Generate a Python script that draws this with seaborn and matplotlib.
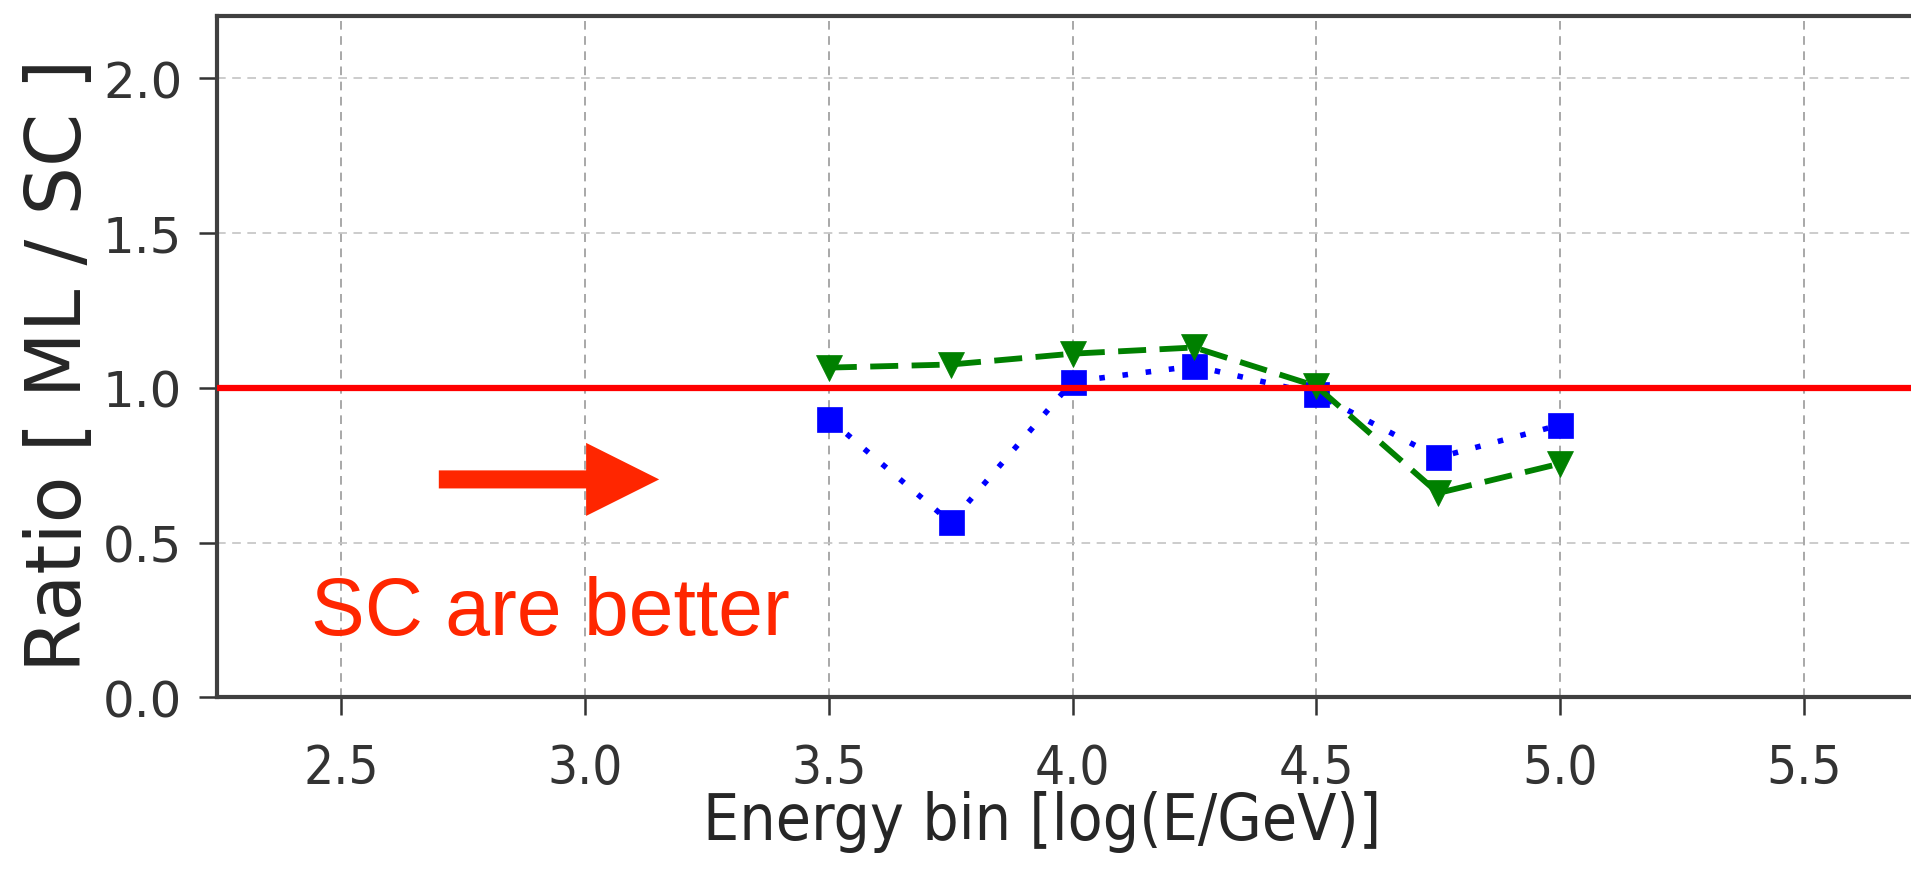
import matplotlib
matplotlib.use("Agg")
import matplotlib.pyplot as plt
import seaborn as sns

# ---- data ----
energy_bins = [3.5, 3.75, 4.0, 4.25, 4.5, 4.75, 5.0]
ratio_blue = [0.90, 0.565, 1.02, 1.07, 0.98, 0.775, 0.88]
ratio_green = [1.065, 1.075, 1.11, 1.13, 1.005, 0.66, 0.755]
reference_ratio = 1.0
x_ticks = [2.5, 3.0, 3.5, 4.0, 4.5, 5.0, 5.5]
y_ticks = [0.0, 0.5, 1.0, 1.5, 2.0]
x_tick_labels = ["2.5", "3.0", "3.5", "4.0", "4.5", "5.0", "5.5"]
y_tick_labels = ["0.0", "0.5", "1.0", "1.5", "2.0"]
x_label = "Energy bin [log(E/GeV)]"
y_label = "Ratio [ ML / SC ]"
note_text = "SC are better"

sns.set_theme(style="white")
plt.rcParams["font.family"] = ["DejaVu Sans"]

fig = plt.figure(figsize=(19.11, 8.87), dpi=100)
ax = fig.add_axes([0.11355, 0.2126, 0.9018, 0.7681])

# grid
ax.set_axisbelow(True)
ax.xaxis.grid(True, color="#9a9a9a", linestyle=(0, (5.2, 3.9)), linewidth=1.2)
ax.yaxis.grid(True, color="#c4c4c4", linestyle=(0, (5.2, 3.9)), linewidth=1.2)

# series
sns.lineplot(x=energy_bins, y=ratio_blue, ax=ax, color="#0000ff",
             marker="s", markersize=18, markeredgecolor="#0000ff",
             markeredgewidth=0.5, linewidth=4.0,
             linestyle=(0, (1.0, 3.2)), zorder=3)
sns.lineplot(x=energy_bins, y=ratio_green, ax=ax, color="#008000",
             marker="v", markersize=19, markeredgecolor="#008000",
             markeredgewidth=0.5, linewidth=4.2,
             linestyle=(0, (4.8, 2.3)), zorder=3)

ax.axhline(reference_ratio, color="#ff0000", linewidth=4.5, zorder=4)

# ticks
ax.set_xticks(x_ticks, labels=x_tick_labels, fontsize=38, fontstretch="condensed")
ax.set_yticks(y_ticks, labels=y_tick_labels, fontsize=36)
ax.tick_params(axis="both", which="major", bottom=True, left=True,
               direction="out", length=13, width=1.8, color="#333333",
               labelcolor="#333333")
ax.tick_params(axis="x", pad=19)
ax.tick_params(axis="y", pad=12)

ax.set_xlim(2.245, 5.78)
ax.set_ylim(0, 2.2)

for side in ["left", "bottom", "top", "right"]:
    ax.spines[side].set_visible(True)
    ax.spines[side].set_color("#404040")
    ax.spines[side].set_linewidth(3.0)

# labels
ax.set_xlabel(x_label, fontsize=46, fontstretch="condensed", color="#262626")
ax.xaxis.set_label_coords(0.4788, -0.136)
ax.set_ylabel(y_label, fontsize=55, color="#262626")
ax.yaxis.set_label_coords(-0.0696, 0.489)

# annotation
ax.text(2.438, 0.205, note_text, color="#ff2600", fontsize=58,
        family=["Liberation Sans"], ha="left", va="baseline", zorder=5)
ax.annotate("", xy=(3.152, 0.704), xytext=(2.70, 0.704),
            arrowprops=dict(arrowstyle="simple,head_length=5.26,head_width=5.26,tail_width=1.3",
                            mutation_scale=10, color="#ff2600", shrinkA=0, shrinkB=0, lw=0),
            zorder=5)

fig.savefig("out.png", dpi=100)
